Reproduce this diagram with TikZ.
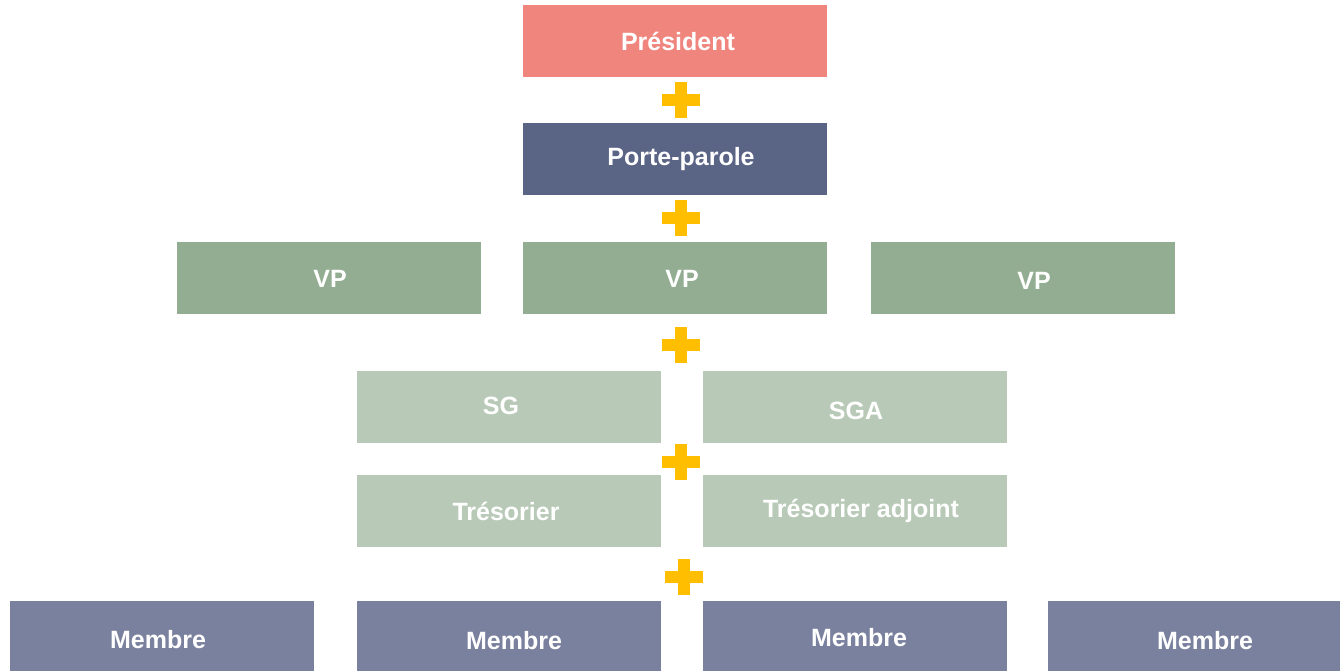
\documentclass[tikz,border=0pt]{standalone}
\usepackage{fontspec}
\setmainfont{Liberation Sans}
\definecolor{presred}{HTML}{F0857E}
\definecolor{portenavy}{HTML}{5A6485}
\definecolor{vpgreen}{HTML}{93AD92}
\definecolor{sggreen}{HTML}{B8CAB7}
\definecolor{membreblue}{HTML}{7A819E}
\definecolor{plusgold}{HTML}{FFBE00}
\begin{document}
\begin{tikzpicture}[x=1pt,y=-1pt,
    box/.style={rectangle,minimum width=304pt,minimum height=72pt,inner sep=0pt},
    lbl/.style={text=white,font=\fontsize{25}{30}\selectfont\bfseries},
    plus sign/.pic={\fill[plusgold] (-19,-6) rectangle (19,6); \fill[plusgold] (-6,-18) rectangle (6,18);}]
    \useasboundingbox (0,0) rectangle (1340,671);
    % top of the chart
    \node[box,fill=presred] (pres) at (675,41) {};
    \node[lbl] (presl) at ([xshift=3pt]pres.center) {Président};
    \node[box,fill=portenavy] (porte) at (675,159) {};
    \node[lbl] (portel) at ([xshift=6pt]porte.center) {Porte-parole};
    % vice-presidents
    \node[box,fill=vpgreen] (vp1) at (329,278) {};
    \node[lbl] (vp1l) at ([xshift=1pt,yshift=-1pt]vp1.center) {VP};
    \node[box,fill=vpgreen] (vp2) at (675,278) {};
    \node[lbl] (vp2l) at ([xshift=7pt,yshift=-1pt]vp2.center) {VP};
    \node[box,fill=vpgreen] (vp3) at (1023,278) {};
    \node[lbl] (vp3l) at ([xshift=11pt,yshift=-3pt]vp3.center) {VP};
    % bureau
    \node[box,fill=sggreen] (sg) at (509,407) {};
    \node[lbl] (sgl) at ([xshift=-8pt,yshift=1pt]sg.center) {SG};
    \node[box,fill=sggreen] (sga) at (855,407) {};
    \node[lbl] (sgal) at ([xshift=1pt,yshift=-4pt]sga.center) {SGA};
    \node[box,fill=sggreen] (tres) at (509,511) {};
    \node[lbl] (tresl) at ([xshift=-3pt]tres.center) {Trésorier};
    \node[box,fill=sggreen] (tresadj) at (855,511) {};
    \node[lbl] (tresadjl) at ([xshift=6pt]tresadj.center) {Trésorier adjoint};
    % members
    \node[box,fill=membreblue,minimum height=70pt] (mem1) at (162,636) {};
    \node[lbl] (mem1l) at ([xshift=-4pt,yshift=-4pt]mem1.center) {Membre};
    \node[box,fill=membreblue,minimum height=70pt] (mem2) at (509,636) {};
    \node[lbl] (mem2l) at ([xshift=5pt,yshift=-5pt]mem2.center) {Membre};
    \node[box,fill=membreblue,minimum height=70pt] (mem3) at (855,636) {};
    \node[lbl] (mem3l) at ([xshift=4pt,yshift=-2pt]mem3.center) {Membre};
    \node[box,fill=membreblue,minimum width=292pt,minimum height=70pt] (mem4) at (1194,636) {};
    \node[lbl] (mem4l) at ([xshift=11pt,yshift=-5pt]mem4.center) {Membre};
    % plus signs between the levels
    \pic at (681,100) {plus sign};
    \pic at (681,218) {plus sign};
    \pic at (681,345) {plus sign};
    \pic at (681,462) {plus sign};
    \pic at (684,577) {plus sign};
\end{tikzpicture}
\end{document}
